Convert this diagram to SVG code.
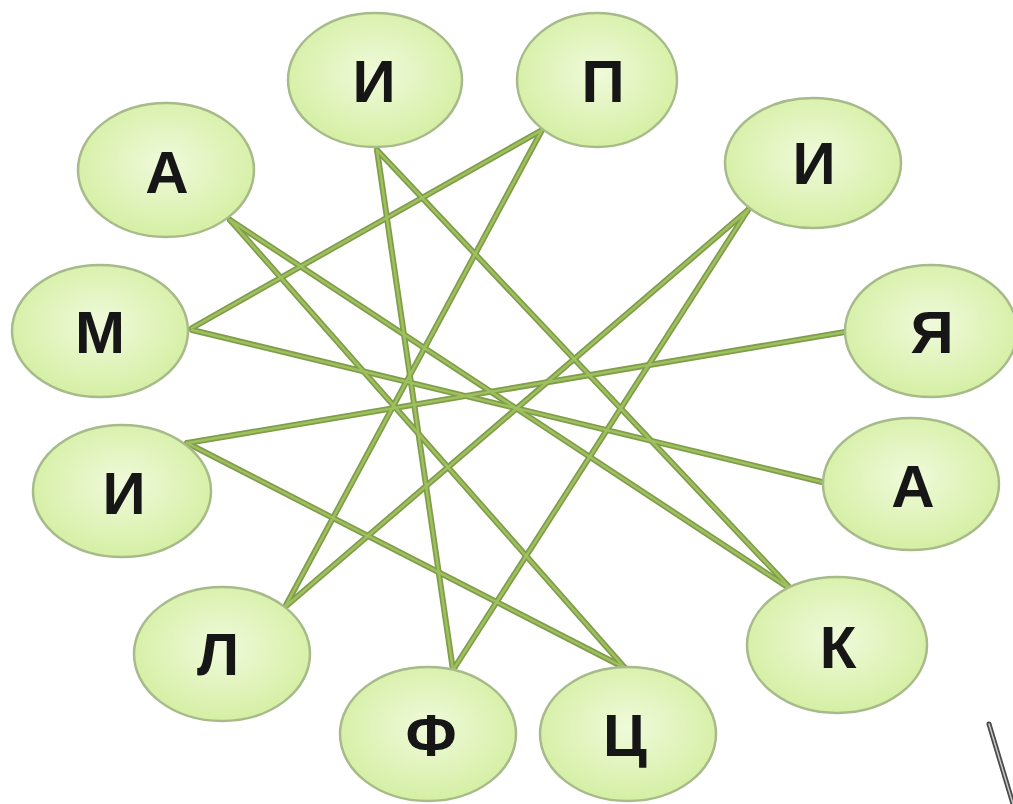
<svg xmlns="http://www.w3.org/2000/svg" width="1013" height="804" viewBox="0 0 1013 804">
<defs>
<radialGradient id="g" cx="50%" cy="45%" r="55%">
<stop offset="0" stop-color="#f0fadb"/>
<stop offset="1" stop-color="#d5efa4"/>
</radialGradient>
<style>
.n ellipse{fill:url(#g);stroke:#a7bb8a;stroke-width:2.5}
.n text{font-family:"Liberation Sans","DejaVu Sans",sans-serif;font-size:60px;font-weight:bold;fill:#161616;text-anchor:middle}
.c line{stroke:#809d4a;stroke-width:6;stroke-linecap:round}
.c2 line{stroke:#9fc05f;stroke-width:2.5;stroke-linecap:round}
</style>
</defs>
<rect width="1013" height="804" fill="#ffffff"/>
<g id="connectors">
<g class="c">
<line x1="822" y1="482" x2="192" y2="330"/>
<line x1="192" y1="328" x2="542" y2="130"/>
<line x1="542" y1="130" x2="285" y2="607"/>
<line x1="285" y1="607" x2="748" y2="210"/>
<line x1="748" y1="210" x2="453" y2="670"/>
<line x1="453" y1="670" x2="377" y2="150"/>
<line x1="377" y1="150" x2="792" y2="590"/>
<line x1="792" y1="590" x2="230" y2="220"/>
<line x1="230" y1="220" x2="625" y2="668"/>
<line x1="625" y1="668" x2="187" y2="443"/>
<line x1="187" y1="443" x2="845" y2="332"/>
</g>
<g class="c2">
<line x1="822" y1="482" x2="192" y2="330"/>
<line x1="192" y1="328" x2="542" y2="130"/>
<line x1="542" y1="130" x2="285" y2="607"/>
<line x1="285" y1="607" x2="748" y2="210"/>
<line x1="748" y1="210" x2="453" y2="670"/>
<line x1="453" y1="670" x2="377" y2="150"/>
<line x1="377" y1="150" x2="792" y2="590"/>
<line x1="792" y1="590" x2="230" y2="220"/>
<line x1="230" y1="220" x2="625" y2="668"/>
<line x1="625" y1="668" x2="187" y2="443"/>
<line x1="187" y1="443" x2="845" y2="332"/>
</g>
</g>
<g id="n1" class="n"><ellipse cx="375" cy="80" rx="87" ry="67"/><text x="374" y="102">И</text></g>
<g id="n2" class="n"><ellipse cx="597" cy="80" rx="80" ry="67"/><text x="603" y="102">П</text></g>
<g id="n3" class="n"><ellipse cx="166" cy="170" rx="88" ry="67"/><text x="167" y="193">А</text></g>
<g id="n4" class="n"><ellipse cx="813" cy="163" rx="88" ry="65"/><text x="814" y="184">И</text></g>
<g id="n5" class="n"><ellipse cx="100" cy="331" rx="88" ry="66"/><text x="100" y="353">М</text></g>
<g id="n6" class="n"><ellipse cx="931" cy="331" rx="86" ry="66"/><text x="932" y="353">Я</text></g>
<g id="n7" class="n"><ellipse cx="122" cy="491" rx="89" ry="66"/><text x="124" y="514">И</text></g>
<g id="n8" class="n"><ellipse cx="911" cy="484" rx="88" ry="66"/><text x="913" y="507">А</text></g>
<g id="n9" class="n"><ellipse cx="222" cy="654" rx="88" ry="67"/><text x="218" y="675">Л</text></g>
<g id="n10" class="n"><ellipse cx="837" cy="645" rx="90" ry="68"/><text x="838" y="668">К</text></g>
<g id="n11" class="n"><ellipse cx="428" cy="734" rx="88" ry="67"/><text x="431" y="756">Ф</text></g>
<g id="n12" class="n"><ellipse cx="628" cy="734" rx="88" ry="67"/><text x="625" y="756">Ц</text></g>
<g id="needle">
<line x1="989" y1="724" x2="1013" y2="804" stroke="#4a4a4a" stroke-width="5" stroke-linecap="round"/>
<line x1="989" y1="724" x2="1013" y2="804" stroke="#c8c8c8" stroke-width="1.5" stroke-linecap="round"/>
</g>
</svg>
